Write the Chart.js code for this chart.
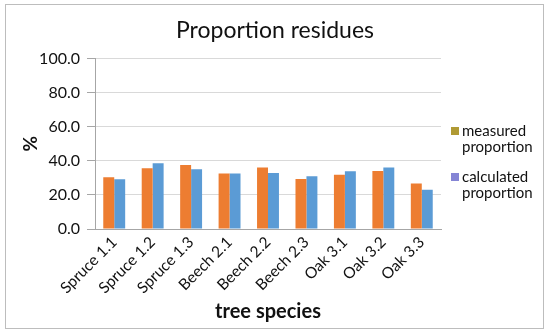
<!DOCTYPE html>
<html>
<head>
<meta charset="utf-8">
<script src="https://cdn.jsdelivr.net/npm/chart.js@4/dist/chart.umd.min.js"></script>
<style>
  html, body { margin: 0; padding: 0; background: #fff; }
  #wrap { position: relative; width: 550px; height: 334px; }
  #frame { position: absolute; left: 5px; top: 4px; width: 537px; height: 323px; border: 1.5px solid #BDBDBD; pointer-events: none; }
  canvas { position: absolute; left: 0; top: 0; }
  #legend { position: absolute; left: 451px; top: 122px; font-family: Lato, sans-serif; font-size: 15px; color: #111; line-height: 16px; }
  .item { position: relative; padding-left: 11px; margin-bottom: 14px; }
  .sw { position: absolute; left: 0; top: 5px; width: 8px; height: 8px; }
</style>
</head>
<body>
<div id="wrap">
  <canvas id="c" width="550" height="334"></canvas>
  <div id="frame"></div>
  <div id="legend"></div>
</div>
<script>
const categories = ["Spruce 1.1","Spruce 1.2","Spruce 1.3","Beech 2.1","Beech 2.2","Beech 2.3","Oak 3.1","Oak 3.2","Oak 3.3"];
const measured = [30.4, 35.7, 37.6, 32.5, 36.1, 29.4, 31.8, 34.1, 26.7];
const calculated = [29.2, 38.6, 35.1, 32.5, 32.9, 31.0, 33.9, 36.1, 23.1];
const seriesNames = [["measured","proportion"],["calculated","proportion"]];
const barColors = ["#ED7D31", "#5B9BD5"];
const legendColors = ["#B09A34", "#8585D5"];
const yTicks = [0, 20, 40, 60, 80, 100];

const font = "Lato, sans-serif";
new Chart(document.getElementById("c"), {
  type: "bar",
  data: {
    labels: categories,
    datasets: [
      { label: seriesNames[0].join(" "), data: measured, backgroundColor: barColors[0] },
      { label: seriesNames[1].join(" "), data: calculated, backgroundColor: barColors[1] }
    ]
  },
  options: {
    responsive: false,
    animation: false,
    devicePixelRatio: 1,
    layout: { padding: { left: 6, right: 6, top: 0, bottom: 8 } },
    plugins: {
      legend: { display: false },
      tooltip: { enabled: false },
      title: {
        display: true,
        text: "Proportion residues",
        color: "#111",
        font: { family: font, size: 23, weight: "normal" },
        padding: { top: 17, bottom: 14 }
      }
    },
    datasets: { bar: { categoryPercentage: 0.57, barPercentage: 1.0 } },
    scales: {
      x: {
        grid: { display: false, drawTicks: false },
        border: { display: true, color: "#A6A6A6", width: 1 },
        ticks: { color: "#111", font: { family: font, size: 15.5 }, minRotation: 45, maxRotation: 45, padding: 4, autoSkip: false },
        title: { display: true, text: "tree species", color: "#111", font: { family: font, size: 20, weight: "bold" }, padding: { top: 0, bottom: 2 } },
        afterFit: s => { s.height = 105 - 8; }
      },
      y: {
        min: 0, max: 100,
        afterBuildTicks: s => { s.ticks = yTicks.map(v => ({ value: v })); },
        grid: { color: "#D9D9D9", tickLength: 8, tickColor: "#A6A6A6" },
        border: { display: true, color: "#A6A6A6", width: 1 },
        ticks: { color: "#111", font: { family: font, size: 16 }, padding: 7, callback: v => Number(v).toFixed(1) },
        title: { display: true, text: "%", color: "#111", font: { family: font, size: 19, weight: "bold" }, padding: { top: 13, bottom: 0 } },
        afterFit: s => { s.width = 95 - 6; }
      },
      ySpace: {
        position: "right",
        display: true,
        grid: { display: false, drawTicks: false },
        border: { display: false },
        ticks: { display: false },
        afterFit: s => { s.width = 550 - 6 - 441; }
      }
    }
  }
});

const lg = document.getElementById("legend");
seriesNames.forEach((lines, i) => {
  const d = document.createElement("div");
  d.className = "item";
  const sw = document.createElement("span");
  sw.className = "sw";
  sw.style.background = legendColors[i];
  d.appendChild(sw);
  lines.forEach(t => { const l = document.createElement("div"); l.textContent = t; d.appendChild(l); });
  lg.appendChild(d);
});
</script>
</body>
</html>
